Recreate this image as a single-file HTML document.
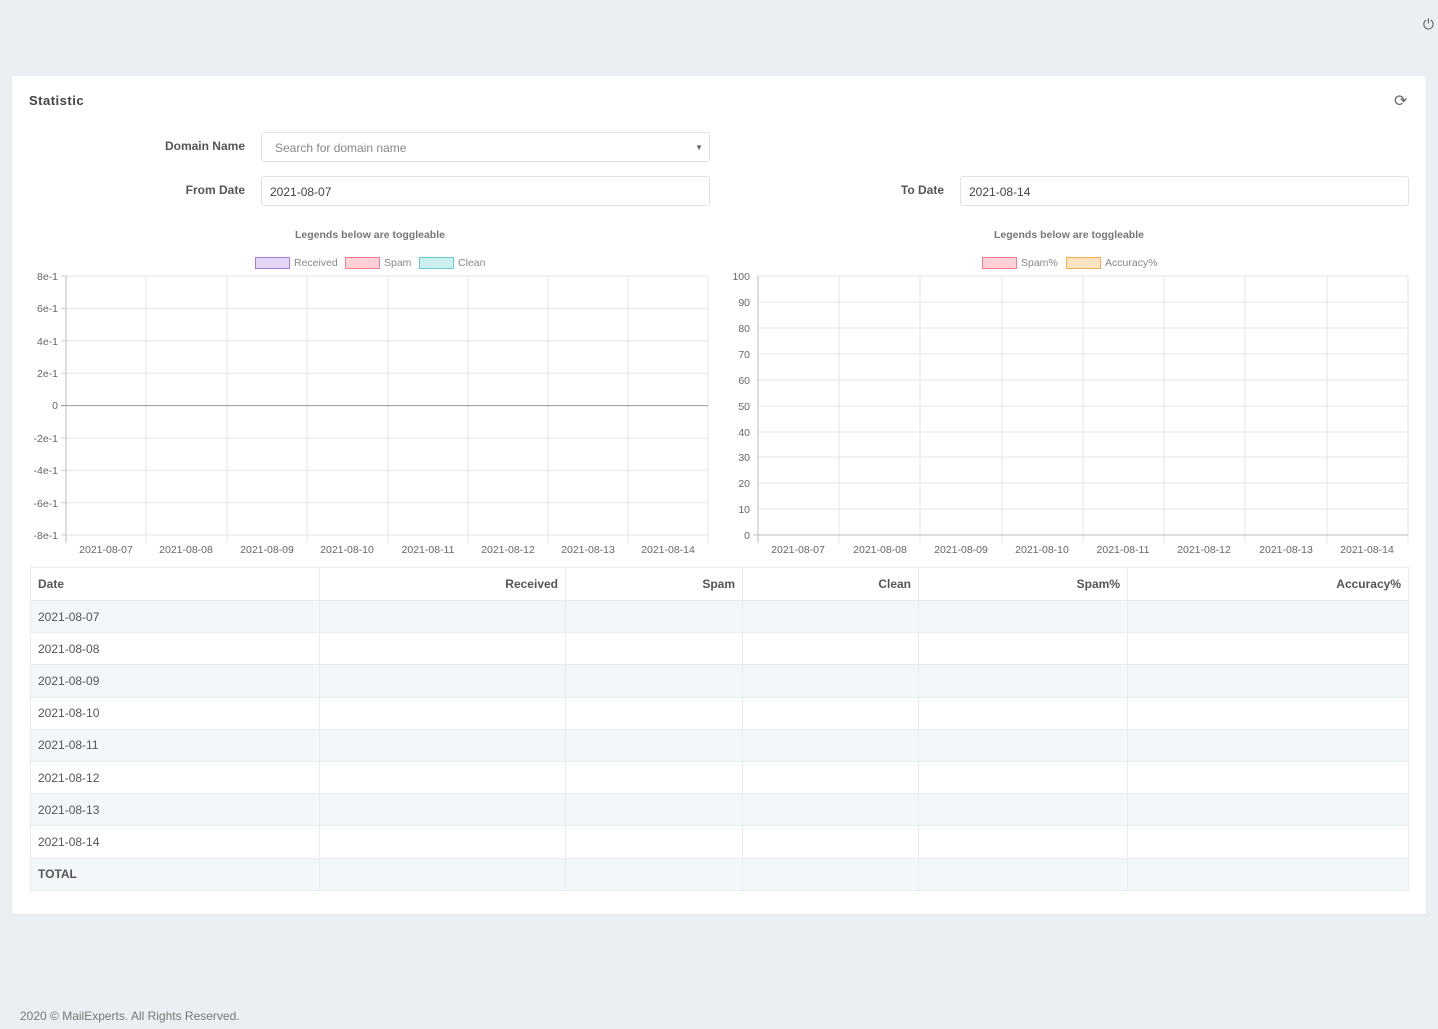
<!DOCTYPE html><html><head><style>
body{margin:0;width:1438px;height:1029px;background:#ebeef2;font-family:"Liberation Sans",sans-serif;position:relative;overflow:hidden;color:#555}
.card{position:absolute;left:12px;top:76px;width:1414px;height:838px;background:#fff;border-radius:3px;box-shadow:0 1px 2px rgba(0,0,0,.05)}
.abs{position:absolute}
.lbl{font-size:12px;font-weight:bold;color:#555;text-align:right;width:120px}
.inp{border:1px solid #dfe3e8;border-radius:3px;height:30px;background:#fff;font-size:12px;line-height:30px;padding-left:8px;box-sizing:border-box;color:#444}
table{position:absolute;left:30px;top:567px;width:1379px;border-collapse:collapse;font-size:12px;table-layout:fixed}
td{border:1px solid #e8ecf0;height:31.2px;padding:0 7px;color:#555}
tr:nth-child(even) td{background:#f4f7fa}
th{border:1px solid #e8ecf0;height:32px;padding:0 7px;text-align:right;font-weight:bold;color:#555}
th:first-child{text-align:left}
</style></head><body>
<div class="abs" style="right:4px;top:16px;font-size:14px;color:#555">⏻</div>
<div class="card"></div>
<div class="abs" style="left:29px;top:93px;font-size:13px;font-weight:bold;letter-spacing:.5px;color:#444">Statistic</div>
<div class="abs" style="left:1394px;top:91px;font-size:16px;color:#666">⟳</div>
<div class="abs lbl" style="left:125px;top:139px">Domain Name</div>
<div class="abs inp" style="left:261px;top:132px;width:449px;color:#888;padding-left:13px">Search for domain name<span style="position:absolute;right:6px;font-size:8px;color:#666">▼</span></div>
<div class="abs lbl" style="left:125px;top:183px">From Date</div>
<div class="abs inp" style="left:261px;top:176px;width:449px">2021-08-07</div>
<div class="abs lbl" style="left:824px;top:183px">To Date</div>
<div class="abs inp" style="left:960px;top:176px;width:449px">2021-08-14</div>
<svg class="abs" style="left:0;top:0" width="1438" height="1029" font-family="Liberation Sans,sans-serif" font-size="10.5" fill="#666">
<text x="370" y="238" text-anchor="middle" font-weight="bold" font-size="10.5" fill="#777">Legends below are toggleable</text>
<text x="1069" y="238" text-anchor="middle" font-weight="bold" font-size="10.5" fill="#777">Legends below are toggleable</text>
<rect x="255.5" y="257.5" width="34" height="11" fill="#e6d6f5" stroke="#a77be8"/><text x="294" y="266" fill="#888">Received</text>
<rect x="345.5" y="257.5" width="34" height="11" fill="#ffd0d6" stroke="#ff7a8f"/><text x="384" y="266" fill="#888">Spam</text>
<rect x="419.5" y="257.5" width="34" height="11" fill="#ccefef" stroke="#66cccc"/><text x="458" y="266" fill="#888">Clean</text>
<rect x="982.5" y="257.5" width="34" height="11" fill="#ffd0d6" stroke="#ff7a8f"/><text x="1021" y="266" fill="#888">Spam%</text>
<rect x="1066.5" y="257.5" width="34" height="11" fill="#ffe4c4" stroke="#ffa94d"/><text x="1105" y="266" fill="#888">Accuracy%</text>
<g stroke="#e6e6e6" stroke-width="1">
<line x1="66" y1="276" x2="708" y2="276"/><line x1="66" y1="308.4" x2="708" y2="308.4"/><line x1="66" y1="340.8" x2="708" y2="340.8"/><line x1="66" y1="373.2" x2="708" y2="373.2"/><line x1="66" y1="438" x2="708" y2="438"/><line x1="66" y1="470.4" x2="708" y2="470.4"/><line x1="66" y1="502.8" x2="708" y2="502.8"/><line x1="66" y1="535" x2="708" y2="535"/>
<line x1="146" y1="276" x2="146" y2="543"/><line x1="227" y1="276" x2="227" y2="543"/><line x1="307" y1="276" x2="307" y2="543"/><line x1="388" y1="276" x2="388" y2="543"/><line x1="468" y1="276" x2="468" y2="543"/><line x1="548" y1="276" x2="548" y2="543"/><line x1="628" y1="276" x2="628" y2="543"/><line x1="708" y1="276" x2="708" y2="543"/>
<line x1="758" y1="302" x2="1408" y2="302"/><line x1="758" y1="328" x2="1408" y2="328"/><line x1="758" y1="354" x2="1408" y2="354"/><line x1="758" y1="380" x2="1408" y2="380"/><line x1="758" y1="406" x2="1408" y2="406"/><line x1="758" y1="432" x2="1408" y2="432"/><line x1="758" y1="457" x2="1408" y2="457"/><line x1="758" y1="483" x2="1408" y2="483"/><line x1="758" y1="509" x2="1408" y2="509"/><line x1="758" y1="276" x2="1408" y2="276"/>
<line x1="839" y1="276" x2="839" y2="543"/><line x1="920" y1="276" x2="920" y2="543"/><line x1="1002" y1="276" x2="1002" y2="543"/><line x1="1083" y1="276" x2="1083" y2="543"/><line x1="1164" y1="276" x2="1164" y2="543"/><line x1="1245" y1="276" x2="1245" y2="543"/><line x1="1327" y1="276" x2="1327" y2="543"/><line x1="1408" y1="276" x2="1408" y2="543"/>
<g stroke="#ccc"><line x1="61" y1="276" x2="66" y2="276"/><line x1="61" y1="308.4" x2="66" y2="308.4"/><line x1="61" y1="340.8" x2="66" y2="340.8"/><line x1="61" y1="373.2" x2="66" y2="373.2"/><line x1="61" y1="405.6" x2="66" y2="405.6"/><line x1="61" y1="438" x2="66" y2="438"/><line x1="61" y1="470.4" x2="66" y2="470.4"/><line x1="61" y1="502.8" x2="66" y2="502.8"/><line x1="61" y1="535" x2="66" y2="535"/></g>
</g>
<line x1="66" y1="276" x2="66" y2="543" stroke="#bbb"/><line x1="61" y1="405.6" x2="708" y2="405.6" stroke="#999"/>
<line x1="758" y1="276" x2="758" y2="543" stroke="#bbb"/><line x1="753" y1="535" x2="1408" y2="535" stroke="#bbb"/>
<g text-anchor="end">
<text x="58" y="280">8e-1</text><text x="58" y="312">6e-1</text><text x="58" y="345">4e-1</text><text x="58" y="377">2e-1</text><text x="58" y="409">0</text><text x="58" y="442">-2e-1</text><text x="58" y="474">-4e-1</text><text x="58" y="507">-6e-1</text><text x="58" y="539">-8e-1</text>
<text x="750" y="280">100</text><text x="750" y="306">90</text><text x="750" y="332">80</text><text x="750" y="358">70</text><text x="750" y="384">60</text><text x="750" y="410">50</text><text x="750" y="436">40</text><text x="750" y="461">30</text><text x="750" y="487">20</text><text x="750" y="513">10</text><text x="750" y="539">0</text>
</g>
<g text-anchor="middle">
<text x="106" y="553">2021-08-07</text><text x="186" y="553">2021-08-08</text><text x="267" y="553">2021-08-09</text><text x="347" y="553">2021-08-10</text><text x="428" y="553">2021-08-11</text><text x="508" y="553">2021-08-12</text><text x="588" y="553">2021-08-13</text><text x="668" y="553">2021-08-14</text>
<text x="798" y="553">2021-08-07</text><text x="880" y="553">2021-08-08</text><text x="961" y="553">2021-08-09</text><text x="1042" y="553">2021-08-10</text><text x="1123" y="553">2021-08-11</text><text x="1204" y="553">2021-08-12</text><text x="1286" y="553">2021-08-13</text><text x="1367" y="553">2021-08-14</text>
</g>
</svg>
<table>
<colgroup><col style="width:289px"><col style="width:246px"><col style="width:177px"><col style="width:176px"><col style="width:209px"><col></colgroup>
<tr><th>Date</th><th>Received</th><th>Spam</th><th>Clean</th><th>Spam%</th><th>Accuracy%</th></tr>
<tr><td>2021-08-07</td><td></td><td></td><td></td><td></td><td></td></tr>
<tr><td>2021-08-08</td><td></td><td></td><td></td><td></td><td></td></tr>
<tr><td>2021-08-09</td><td></td><td></td><td></td><td></td><td></td></tr>
<tr><td>2021-08-10</td><td></td><td></td><td></td><td></td><td></td></tr>
<tr><td>2021-08-11</td><td></td><td></td><td></td><td></td><td></td></tr>
<tr><td>2021-08-12</td><td></td><td></td><td></td><td></td><td></td></tr>
<tr><td>2021-08-13</td><td></td><td></td><td></td><td></td><td></td></tr>
<tr><td>2021-08-14</td><td></td><td></td><td></td><td></td><td></td></tr>
<tr><td style="font-weight:bold">TOTAL</td><td></td><td></td><td></td><td></td><td></td></tr>
</table>
<div class="abs" style="left:20px;top:1009px;font-size:12px;color:#777">2020 © MailExperts. All Rights Reserved.</div>
</body></html>
